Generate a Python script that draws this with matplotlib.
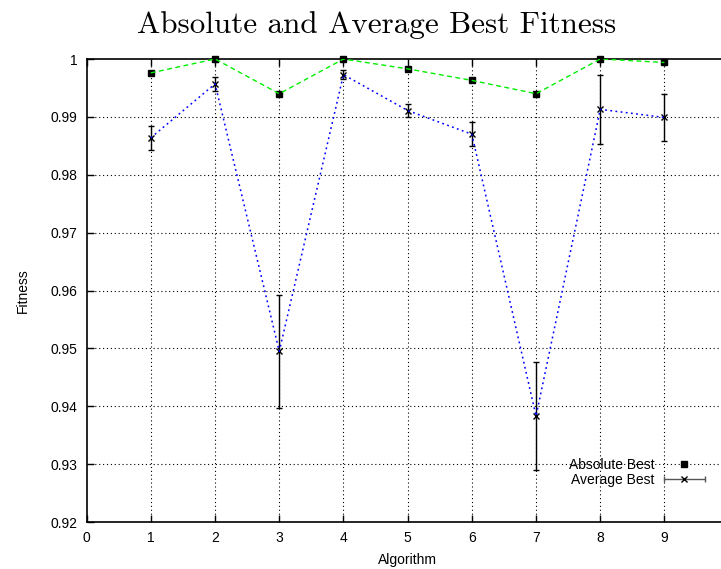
import matplotlib
matplotlib.use("Agg")
import matplotlib.pyplot as plt
from matplotlib.lines import Line2D
from matplotlib.legend_handler import HandlerErrorbar
from matplotlib.container import ErrorbarContainer
import numpy as np

algorithms = [1, 2, 3, 4, 5, 6, 7, 8, 9]
absolute_best = [0.9976, 1.0, 0.9940, 1.0, 0.9983, 0.9963, 0.9940, 1.0, 0.9994]
average_best = [0.9864, 0.9957, 0.9495, 0.9973, 0.9911, 0.9870, 0.9383, 0.9913, 0.9899]
average_err = [0.0021, 0.0012, 0.0098, 0.0008, 0.0012, 0.0021, 0.0094, 0.0060, 0.0040]

x_ticks = [0, 1, 2, 3, 4, 5, 6, 7, 8, 9]
y_ticks = [0.92, 0.93, 0.94, 0.95, 0.96, 0.97, 0.98, 0.99, 1.0]
y_tick_labels = ["0.92", "0.93", "0.94", "0.95", "0.96", "0.97", "0.98", "0.99", "1"]

plt.rcParams["font.family"] = ["Liberation Sans", "DejaVu Sans"]
plt.rcParams["axes.unicode_minus"] = False

FS = 10

fig = plt.figure(figsize=(7.21, 5.69), dpi=100)
ax = fig.add_axes([0.1202, 0.0826, 0.8904, 0.8137])

ax.set_xlim(0, 10)
ax.set_ylim(0.92, 1.0)

# grid
for xv in x_ticks[1:]:
    ax.axvline(xv, color="black", lw=0.8, ls=(0, (1, 2.5)), zorder=0)
for yv in y_ticks[1:-1]:
    ax.axhline(yv, color="black", lw=0.8, ls=(0, (1, 2.5)), zorder=0)

# absolute best: black squares joined by a green dashed line
ax.plot(algorithms, absolute_best, ls="none", marker="s", ms=4.8,
        color="black", zorder=3, clip_on=False)
ax.plot(algorithms, absolute_best, ls=(0, (3.5, 2.5)), color="#00ee00",
        lw=1.0, zorder=4)

# average best: error bars with crosses, joined by a blue dotted line
ax.errorbar(algorithms, average_best, yerr=average_err, fmt="x",
            color="black", ms=5, mew=1.0, elinewidth=1.0, capsize=2.5,
            capthick=1.0, zorder=3)
ax.plot(algorithms, average_best, ls=(0, (1.2, 2.2)), color="#0000ff",
        lw=1.1, zorder=4)

ax.set_xticks(x_ticks)
ax.set_yticks(y_ticks)
ax.set_yticklabels(y_tick_labels)
ax.tick_params(direction="in", length=5, width=1.0, labelsize=FS,
               top=True, right=True, pad=6.5)
for s in ax.spines.values():
    s.set_linewidth(1.2)

ax.set_xlabel("Algorithm", fontsize=FS, labelpad=6)
ax.set_ylabel("Fitness", fontsize=FS, labelpad=15)
fig.text(0.522, 0.942, "Absolute and Average Best Fitness", ha="center",
         va="baseline", fontsize=22.4, family="cmr10")

# legend entries: a square and a horizontal error bar sample
h_abs = Line2D([], [], ls="none", marker="s", ms=4.8, color="black")
eb_proxy = ax.errorbar([np.nan], [np.nan], xerr=[0.1], fmt="x",
                       color="#555555", ms=5, mew=1.0, elinewidth=1.0,
                       capsize=2.5, capthick=1.0)
eb_proxy[0].set_color("black")
leg = ax.legend([h_abs, eb_proxy], ["Absolute Best", "Average Best"],
                loc="lower right", bbox_to_anchor=(0.9646, 0.076),
                frameon=False, fontsize=FS, markerfirst=False,
                borderpad=0, borderaxespad=0,
                handlelength=3.1, handletextpad=0.6, labelspacing=0.05,
                handler_map={ErrorbarContainer: HandlerErrorbar(xerr_size=1.5)})

fig.savefig("out.png", dpi=100)
